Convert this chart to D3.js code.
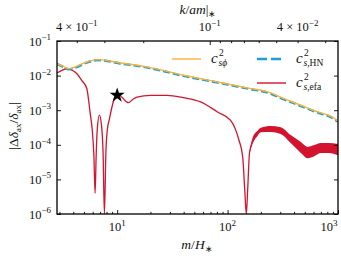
<!DOCTYPE html>
<html>
<head>
<meta charset="utf-8">
<script src="https://cdn.jsdelivr.net/npm/d3@7"></script>
<style>
  body { margin: 0; background: #fff; }
  svg { display: block; }
  text { font-family: "Liberation Serif", "Times New Roman", serif; }
</style>
</head>
<body>
<svg id="chart" width="341" height="256"></svg>
<script>
// series: [m/H*, |Δδ/δ|]
const sphi = [
  [2.84, 0.0222], [3.26, 0.0185], [3.62, 0.0159], [4.3, 0.0185], [5.3, 0.0247],
  [6.76, 0.0289], [8.64, 0.0264], [10.6, 0.0231], [13.1, 0.0212], [19.9, 0.0170],
  [39.8, 0.0102], [81, 0.00655], [162, 0.00422], [231, 0.00337], [323, 0.00217],
  [461, 0.00139], [658, 0.00089], [863, 0.00066], [1000, 0.00048]
];
const hn = [
  [2.84, 0.0218], [3.26, 0.0178], [3.62, 0.0152], [4.3, 0.0177], [5.3, 0.0238],
  [6.76, 0.0280], [8.64, 0.0256], [10.6, 0.0224], [13.1, 0.0205], [19.9, 0.0164],
  [39.8, 0.0098], [81, 0.00630], [162, 0.00405], [231, 0.00323], [323, 0.00207],
  [461, 0.00132], [658, 0.00085], [863, 0.00063], [1000, 0.00046]
];
const efa = [
  [2.85, 0.0119], [3.16, 0.0142], [3.49, 0.0158], [3.9, 0.0143], [4.3, 0.0115],
  [4.77, 0.0073], [5.3, 0.0043], [5.68, 0.00087], [5.95, 0.00026], [6.15, 5e-5],
  [6.31, 4e-6], [6.45, 5e-5], [6.6, 0.00028], [6.9, 0.00072], [7.2, 0.00038],
  [7.45, 6e-5], [7.66, 1e-7], [7.9, 6e-5], [8.15, 0.00028], [8.5, 0.00055],
  [9.0, 0.0013], [9.4, 0.0021], [9.79, 0.0027], [10.4, 0.0027], [11, 0.0024],
  [12.6, 0.00165], [14, 0.0021], [15.1, 0.0024], [20, 0.0027], [28.3, 0.0027],
  [39.8, 0.0023], [56.9, 0.00174], [81, 0.00089], [106.5, 0.00051], [126.6, 0.000138],
  [137, 4.5e-5], [143, 5e-6], [147.8, 1e-7], [152, 5e-6], [158, 6e-5],
  [169, 0.000125], [186, 0.00021], [200, 0.00027], [246, 0.00029], [303, 0.00025],
  [373, 0.000155], [461, 8.5e-5], [530, 6.3e-5], [609, 6.8e-5], [700, 8.0e-5],
  [826, 8.0e-5], [1000, 7.4e-5]
];
// fast-oscillation envelope of the efa curve: [m, low, high]
const efaBand = [
  [158, 5.5e-5, 6.5e-5], [169, 0.000112, 0.000166], [186, 0.000178, 0.000251],
  [200, 0.000229, 0.000309], [246, 0.000234, 0.000347], [303, 0.000204, 0.000324],
  [373, 0.000112, 0.000191], [461, 5.8e-5, 0.000120], [530, 4.1e-5, 8.7e-5],
  [609, 4.7e-5, 9.8e-5], [700, 5.8e-5, 0.000112], [826, 5.8e-5, 0.000112],
  [1000, 5.0e-5, 0.000105]
];
const star = [10, 0.0027];

const xTicksMajor = [10, 100, 1000];
const xTickExp = ["1", "2", "3"];
const yTicksMajor = [1e-6, 1e-5, 1e-4, 1e-3, 1e-2, 1e-1];
const yTickExp = ["−6", "−5", "−4", "−3", "−2", "−1"];
const kConst = 0.83; // k/am* = kConst / sqrt(m/H*)
const kTicksMajor = [0.1];
const kTickLabels = [[0.4, "4 × 10", "−1"], [0.1, "10", "−1"], [0.04, "4 × 10", "−2"]];

const colors = { sphi: "#fbb337", hn: "#1a9fd8", efa: "#d3142f" };

const svg = d3.select("#chart");
const L = 57, R = 338, T = 41, B = 214;

const x = d3.scaleLog().domain([2.85, 1000]).range([L, R]);
const y = d3.scaleLog().domain([1e-6, 1e-1]).range([B, T]).clamp(true);
const k = d3.scaleLog().domain([kConst / Math.sqrt(2.85), kConst / Math.sqrt(1000)]).range([L, R]);

const xMinor = [];
[1, 10, 100].forEach(d => d3.range(2, 10).forEach(i => { if (i * d >= 2.85) xMinor.push(i * d); }));
const kMinor = [];
[0.01, 0.1].forEach(d => d3.range(2, 10).forEach(i => {
  const v = i * d;
  if (v <= k.domain()[0] && v >= k.domain()[1] && v !== 0.1) kMinor.push(v);
}));

svg.append("defs").append("clipPath").attr("id", "clip")
  .append("rect").attr("x", L).attr("y", T).attr("width", R - L).attr("height", B - T);

const plot = svg.append("g").attr("clip-path", "url(#clip)");

const line = d3.line().x(d => x(d[0])).y(d => y(d[1])).curve(d3.curveMonotoneX);
const band = d3.area().x(d => x(d[0])).y0(d => y(d[1])).y1(d => y(d[2])).curve(d3.curveMonotoneX);

plot.append("path").datum(efaBand).attr("d", band).attr("fill", colors.efa);
plot.append("path").datum(efa).attr("d", line)
  .attr("fill", "none").attr("stroke", colors.efa).attr("stroke-width", 1.3);
plot.append("path").datum(hn).attr("d", line)
  .attr("fill", "none").attr("stroke", colors.hn).attr("stroke-width", 2.4)
  .attr("stroke-dasharray", "7,3");
plot.append("path").datum(sphi).attr("d", line)
  .attr("fill", "none").attr("stroke", colors.sphi).attr("stroke-width", 1.4);

svg.append("path")
  .attr("transform", `translate(${x(star[0])},${y(star[1])})`)
  .attr("d", d3.symbol(d3.symbolStar, 70)())
  .attr("fill", "#000");

// axes with inward ticks
function ticks(axis, pos, vals, size) {
  svg.append("g").attr("transform", pos)
    .call(axis.tickValues(vals).tickSize(-size).tickFormat(""))
    .call(g => g.select(".domain").remove())
    .call(g => g.selectAll("line").attr("stroke", "#000").attr("stroke-width", 0.9));
}
ticks(d3.axisBottom(x), `translate(0,${B})`, xTicksMajor, 4);
ticks(d3.axisBottom(x), `translate(0,${B})`, xMinor, 2.2);
ticks(d3.axisTop(k), `translate(0,${T})`, kTicksMajor, 4);
ticks(d3.axisTop(k), `translate(0,${T})`, kMinor, 2.2);
ticks(d3.axisLeft(y), `translate(${L},0)`, yTicksMajor, 4);
ticks(d3.axisRight(y), `translate(${R},0)`, yTicksMajor, 4);

svg.append("rect").attr("x", L).attr("y", T).attr("width", R - L).attr("height", B - T)
  .attr("fill", "none").attr("stroke", "#000").attr("stroke-width", 1.3);

// tick labels
function power(base, exp, px, py, anchor) {
  const t = svg.append("text").attr("x", px).attr("y", py).attr("text-anchor", anchor)
    .attr("font-size", 12.5).attr("fill", "#111");
  t.append("tspan").text(base);
  t.append("tspan").attr("dy", -5.5).attr("font-size", 9).text(exp);
}
xTicksMajor.forEach((v, i) => power("10", xTickExp[i], Math.min(x(v), 329), 231, "middle"));
yTicksMajor.forEach((v, i) => power("10", yTickExp[i], 51, y(v) + 4.5, "end"));
kTickLabels.forEach(d => power(d[1], d[2], k(d[0]), 31, "middle"));

// axis titles
const bt = svg.append("text").attr("x", 197).attr("y", 249).attr("text-anchor", "middle")
  .attr("font-size", 13.5).attr("fill", "#111");
bt.append("tspan").attr("font-style", "italic").text("m");
bt.append("tspan").text("/");
bt.append("tspan").attr("font-style", "italic").text("H");
bt.append("tspan").attr("dy", 3).attr("font-size", 9).text("∗");

const tt = svg.append("text").attr("x", 198).attr("y", 14).attr("text-anchor", "middle")
  .attr("font-size", 13.5).attr("fill", "#111");
tt.append("tspan").attr("font-style", "italic").text("k");
tt.append("tspan").text("/");
tt.append("tspan").attr("font-style", "italic").text("am");
tt.append("tspan").text("|");
tt.append("tspan").attr("dy", 3).attr("font-size", 9).text("∗");

const yt = svg.append("text").attr("transform", "translate(18,126) rotate(-90)")
  .attr("text-anchor", "middle").attr("font-size", 13.5).attr("fill", "#111");
yt.append("tspan").text("|Δ");
yt.append("tspan").attr("font-style", "italic").text("δ");
yt.append("tspan").attr("dy", 3).attr("font-size", 9).text("ax");
yt.append("tspan").attr("dy", -3).text("/");
yt.append("tspan").attr("font-style", "italic").text("δ");
yt.append("tspan").attr("dy", 3).attr("font-size", 9).text("ax");
yt.append("tspan").attr("dy", -3).text("|");

// legend
function legendLabel(px, py, sub) {
  const g = svg.append("g").attr("fill", "#111");
  g.append("text").attr("x", px).attr("y", py).attr("font-size", 15)
    .attr("font-style", "italic").text("c");
  g.append("text").attr("x", px + 8).attr("y", py - 7).attr("font-size", 9.5).text("2");
  const s = g.append("text").attr("x", px + 7.5).attr("y", py + 3).attr("font-size", 9.5);
  sub.forEach(p => s.append("tspan").attr("font-style", p[1] ? "italic" : "normal").text(p[0]));
}
const legend = [
  { x0: 172, x1: 201, y: 59, c: colors.sphi, w: 1.4, dash: null, tx: 211, sub: [["sϕ", true]] },
  { x0: 257, x1: 283, y: 59, c: colors.hn, w: 2.4, dash: "10,4", tx: 296, sub: [["s", true], [",HN", false]] },
  { x0: 257, x1: 286, y: 83, c: colors.efa, w: 1.4, dash: null, tx: 296, sub: [["s", true], [",efa", false]] }
];
legend.forEach(d => {
  svg.append("line").attr("x1", d.x0).attr("x2", d.x1).attr("y1", d.y).attr("y2", d.y)
    .attr("stroke", d.c).attr("stroke-width", d.w).attr("stroke-dasharray", d.dash);
  legendLabel(d.tx, d.y + 4, d.sub);
});
</script>
</body>
</html>
